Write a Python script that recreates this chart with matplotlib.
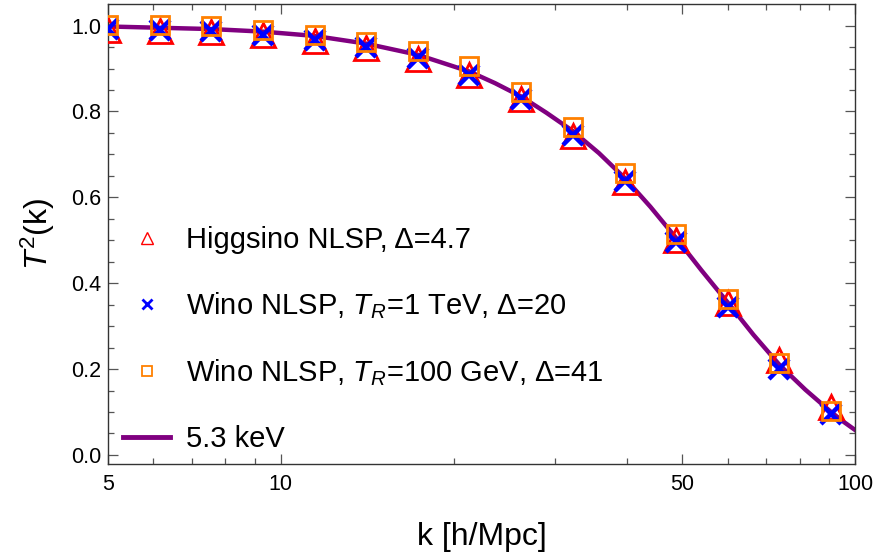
import numpy as np
import matplotlib
matplotlib.use("Agg")
import matplotlib.pyplot as plt
from matplotlib.lines import Line2D
from matplotlib.ticker import FixedLocator, NullFormatter, FixedFormatter

plt.rcParams["font.family"] = ["Liberation Sans", "DejaVu Sans"]
plt.rcParams["mathtext.fontset"] = "custom"
plt.rcParams["mathtext.rm"] = "Liberation Sans"
plt.rcParams["mathtext.it"] = "Liberation Sans:italic"

# sampled wavenumbers of the three model points
k_pts = [5.0, 6.15, 7.57, 9.31, 11.45, 14.08, 17.32, 21.3, 26.2, 32.2, 39.7, 48.8, 60.0, 73.8, 90.8]

higgsino = [0.990, 0.988, 0.986, 0.977, 0.965, 0.949, 0.923, 0.884, 0.830, 0.744, 0.635, 0.500, 0.353, 0.221, 0.112]
wino_1tev = [0.992, 0.990, 0.987, 0.979, 0.967, 0.950, 0.925, 0.885, 0.828, 0.745, 0.638, 0.497, 0.345, 0.200, 0.095]
wino_100gev = [1.002, 1.002, 0.998, 0.990, 0.979, 0.963, 0.940, 0.905, 0.845, 0.765, 0.656, 0.514, 0.363, 0.214, 0.102]

# 5.3 keV thermal WDM curve
k_curve = [5.0, 6.15, 7.57, 9.31, 11.45, 14.08, 17.32, 21.3, 23.6, 26.2, 29.0, 32.2, 35.8, 39.7,
           44.0, 48.8, 54.0, 60.0, 66.5, 73.8, 81.9, 90.8, 95.3, 100.0]
t2_curve = [0.998, 0.995, 0.992, 0.986, 0.976, 0.958, 0.932, 0.893, 0.866, 0.835, 0.797, 0.755, 0.703, 0.645,
            0.578, 0.505, 0.430, 0.355, 0.280, 0.210, 0.152, 0.100, 0.078, 0.058]

labels = ["Higgsino NLSP, Δ=4.7",
          "Wino NLSP, $T_R$=1 TeV, Δ=20",
          "Wino NLSP, $T_R$=100 GeV, Δ=41",
          "5.3 keV"]

x_major = [5, 10, 50, 100]
x_minor = [6, 7, 8, 9, 20, 30, 40, 60, 70, 80, 90]

red = "#ff0000"
blue = "#0000ff"
orange = "#ff8000"
purple = "#800080"

fig = plt.figure(figsize=(8.78, 5.54), dpi=100)
ax = fig.add_axes([0.123, 0.1625, 0.851, 0.830])

ax.plot(k_curve, t2_curve, color=purple, lw=3.2, zorder=2)
ax.plot(k_pts, higgsino, ls="none", marker="^", ms=17, mfc="none", mec=red, mew=2.0, zorder=3)
ax.plot(k_pts, wino_1tev, ls="none", marker="x", ms=14, mec=blue, mew=3.2, zorder=4)
ax.plot(k_pts, wino_100gev, ls="none", marker="s", ms=12.5, mfc="none", mec=orange, mew=2.0, zorder=5)

ax.set_xscale("log")
ax.set_xlim(5, 100)
ax.set_ylim(-0.021, 1.05)

ax.xaxis.set_major_locator(FixedLocator(x_major))
ax.xaxis.set_major_formatter(FixedFormatter([str(v) for v in x_major]))
ax.xaxis.set_minor_locator(FixedLocator(x_minor))
ax.xaxis.set_minor_formatter(NullFormatter())
ax.set_yticks(np.arange(0, 1.01, 0.2))
ax.set_yticks(np.arange(0, 1.01, 0.05), minor=True)
ax.yaxis.set_major_formatter(matplotlib.ticker.FormatStrFormatter("%.1f"))

ax.tick_params(which="both", direction="in", top=True, right=True, colors="#555555",
               labelcolor="black", labelsize=15.5, width=0.9)
ax.tick_params(which="major", length=7)
ax.tick_params(which="minor", length=4.5)
ax.tick_params(axis="x", pad=7)
ax.tick_params(axis="y", pad=5)
for s in ax.spines.values():
    s.set_linewidth(1.0)
    s.set_color("#333333")

ax.set_xlabel("k [h/Mpc]", fontsize=23, labelpad=20)
ax.set_ylabel("$T^2$(k)", fontsize=23, labelpad=10)

handles = [
    Line2D([], [], ls="none", marker="^", ms=9, mfc="none", mec=red, mew=1.0),
    Line2D([], [], ls="none", marker="x", ms=7, mec=blue, mew=2.0),
    Line2D([], [], ls="none", marker="s", ms=7, mfc="none", mec=orange, mew=1.3),
    Line2D([], [], color=purple, lw=3.5),
]
ax.legend(handles, labels, loc="lower left", bbox_to_anchor=(-0.007, -0.02), frameon=False,
          fontsize=21, handlelength=1.62, handletextpad=0.52, labelspacing=1.25, borderaxespad=0.3)

fig.savefig("out.png", dpi=100)
